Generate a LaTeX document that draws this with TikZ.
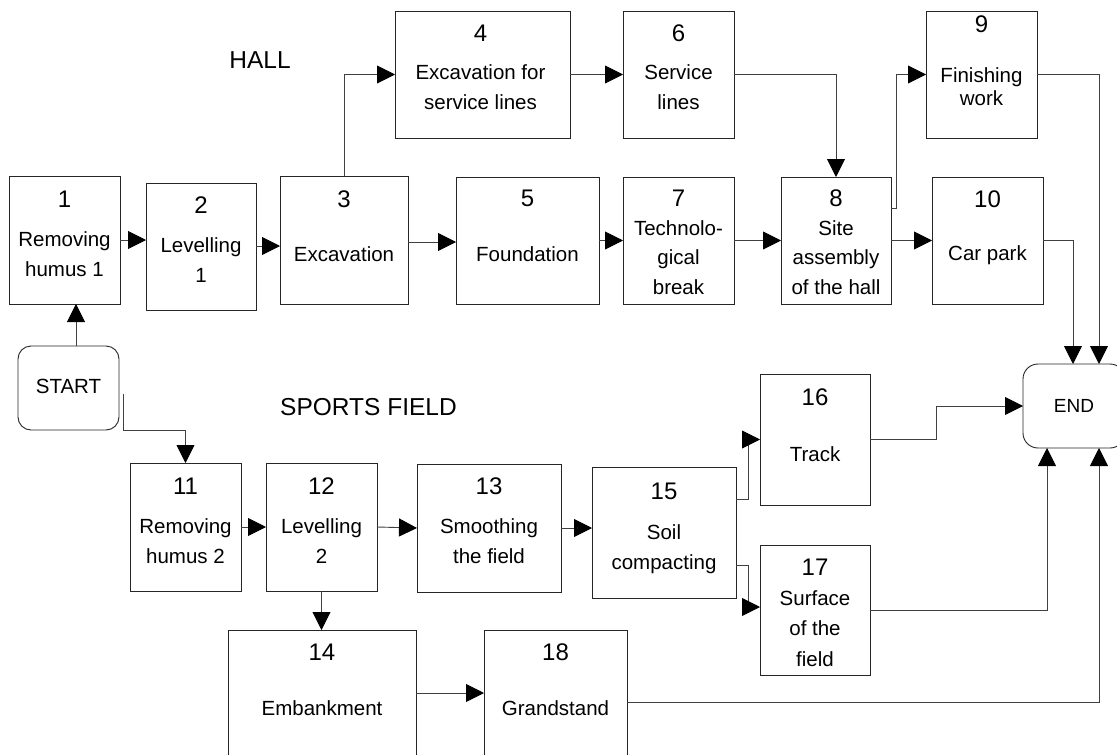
\documentclass[tikz,border=0pt]{standalone}
\usepackage{fontspec}
\setmainfont{Liberation Sans}
\usetikzlibrary{arrows.meta,calc}
\newcommand\actbox[5]{%
  \node[box, minimum width={#4-#2}, minimum height={#5-#3}] (#1) at ({(#2+#4)/2},{(#3+#5)/2}) {};}
\begin{document}
\begin{tikzpicture}[x=1pt,y=-1pt,
  box/.style={draw=black!85, line width=0.9pt, inner sep=0pt, outer sep=0pt, fill=white},
  term/.style={box, rounded corners=13pt},
  num/.style={anchor=base, inner sep=0pt, font=\fontsize{24}{28}\selectfont},
  txt/.style={anchor=base, inner sep=0pt, align=center, font=\fontsize{20.5}{29.5}\selectfont},
  title/.style={inner sep=0pt, font=\fontsize{24.5}{29}\selectfont},
  arr/.style={draw=black!75, line width=0.9pt, -{Triangle[length=18pt,width=18pt,color=black]}},
  ]
\useasboundingbox (0,0) rectangle (1117,755);
\clip (0,0) rectangle (1117,755);
\fill[white] (0,0) rectangle (1117,755);

% boxes
\actbox{b1}{9}{176}{120}{304}
\actbox{b2}{146}{183}{256}{310}
\actbox{b3}{280}{176}{408}{304}
\actbox{b4}{395}{11}{570}{138}
\actbox{b5}{456}{177}{599}{304}
\actbox{b6}{623}{11}{734}{138}
\actbox{b7}{623}{177}{734}{304}
\actbox{b8}{781}{177}{891}{304}
\actbox{b9}{926}{11}{1037}{138}
\actbox{b10}{932}{177}{1043}{304}
\actbox{b11}{130}{463}{241}{591}
\actbox{b12}{266}{463}{377}{591}
\actbox{b13}{417}{464}{561}{592}
\actbox{b15}{592}{467}{736}{598}
\actbox{b16}{760}{374}{870}{505}
\actbox{b17}{760}{545}{870}{675}
\actbox{b14}{228}{630}{416}{790}
\actbox{b18}{484}{630}{627}{790}
\node[term, minimum width=101pt, minimum height=84pt] (start) at (68.5,388) {};
\node[term, rounded corners=15pt, minimum width=102pt, minimum height=84pt] (end) at (1074,406) {};

% texts (multi-line nodes are placed at the baseline of their last line)
\node[title, anchor=base] (hall) at (260,68) {HALL};
\node[title, anchor=base west] (sports) at (280,415) {SPORTS FIELD};
\node[txt] (startt) at (68.5,393) {START};
\node[txt, font=\fontsize{19}{24}\selectfont] (endt) at (1074,412) {END};

\node[num] (n1) at (64.5,207) {1};
\node[txt] (t1) at (64.5,276) {Removing\\humus 1};
\node[num] (n2) at (201,213) {2};
\node[txt] (t2) at (201,282) {Levelling\\1};
\node[num] (n3) at (344,207) {3};
\node[txt] (t3) at (344,261) {Excavation};
\node[num] (n4) at (480.5,41) {4};
\node[txt] (t4) at (480.5,109) {Excavation for\\service lines};
\node[num] (n6) at (678.5,41) {6};
\node[txt] (t6) at (678.5,109) {Service\\lines};
\node[num] (n5) at (527.5,206) {5};
\node[txt] (t5) at (527.5,261) {Foundation};
\node[num] (n7) at (678.5,206) {7};
\node[txt] (t7) at (678.5,294) {Technolo-\\gical\\break};
\node[num] (n8) at (836,206) {8};
\node[txt] (t8) at (836,294) {Site\\assembly\\of the hall};
\node[num] (n9) at (981.5,32) {9};
\node[txt, font=\fontsize{20.5}{23}\selectfont] (t9) at (981.5,105) {Finishing\\work};
\node[num] (n10) at (987.5,207) {10};
\node[txt] (t10) at (987.5,260) {Car park};
\node[num] (n11) at (185.5,494) {11};
\node[txt] (t11) at (185.5,563) {Removing\\humus 2};
\node[num] (n12) at (321.5,494) {12};
\node[txt] (t12) at (321.5,563) {Levelling\\2};
\node[num] (n13) at (489,494) {13};
\node[txt] (t13) at (489,563) {Smoothing\\the field};
\node[num] (n15) at (664,499) {15};
\node[txt] (t15) at (664,569) {Soil\\compacting};
\node[num] (n16) at (815,405) {16};
\node[txt] (t16) at (815,461) {Track};
\node[num] (n17) at (815,575) {17};
\node[txt, font=\fontsize{20.5}{30.5}\selectfont] (t17) at (815,666) {Surface\\of the\\field};
\node[num] (n14) at (322,660) {14};
\node[txt] (t14) at (322,715) {Embankment};
\node[num] (n18) at (555.5,660) {18};
\node[txt] (t18) at (555.5,715) {Grandstand};

% connectors
\draw[arr] (start.north -| 76,0) -- (b1.south -| 76,0);
\draw[arr] (b1.east |- 0,240) -- (b2.west |- 0,240);
\draw[arr] (b2.east |- 0,246) -- (b3.west |- 0,246);
\draw[arr] (b3.east |- 0,242) -- (b5.west |- 0,242);
\draw[arr] (b3.north) |- (b4.west);
\draw[arr] (b4.east) -- (b6.west);
\draw[arr] (b6.east) -| (b8.north);
\draw[arr] (b5.east) -- (b7.west);
\draw[arr] (b7.east) -- (b8.west);
\draw[arr] (b8.east) -- (b10.west);
\draw[arr] (b8.east |- 0,208) -- ++(5,0) |- (b9.west);
\draw[arr] (b9.east) -| (end.north -| 1099,0);
\draw[arr] (b10.east) -| (end.north -| 1073,0);
\draw[arr] ($(start.east)+(4,6)$) |- (b11.north |- 0,430) -- (b11.north);
\draw[arr] (b11.east) -- (b12.west);
\draw[arr] (b12.east) -- (b13.west);
\draw[arr] (b13.east) -- (b13.east -| b15.west);
\draw[arr] (b12.south) -- (b12.south |- b14.north);
\draw[arr] (b14.east |- 0,693) -- (b18.west |- 0,693);
\draw[arr] (b15.east |- 0,499) -- ++(12,0) |- (b16.west);
\draw[arr] (b15.east |- 0,565) -- ++(12,0) |- (b17.west |- 0,607);
\draw[arr] (b16.east) -- ++(66,0) |- (end.west);
\draw[arr] (b17.east) -| (end.south -| 1047,0);
\draw[arr] (b18.east |- 0,702) -| (end.south -| 1099,0);
\end{tikzpicture}
\end{document}
